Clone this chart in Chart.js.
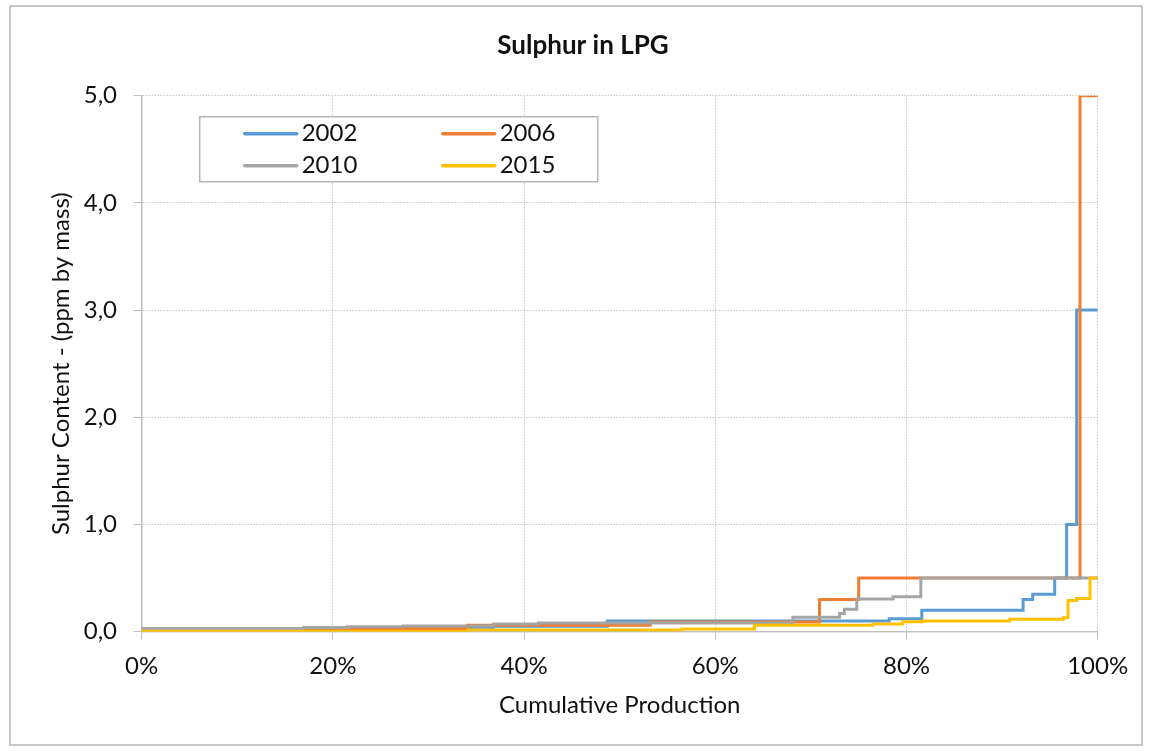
<!DOCTYPE html>
<html>
<head>
<meta charset="utf-8">
<title>Sulphur in LPG</title>
<script src="https://cdn.jsdelivr.net/npm/chart.js@4.4.1/dist/chart.umd.min.js"></script>
<style>
    html, body { margin: 0; padding: 0; background: #fff; }
</style>
</head>
<body>
<canvas id="chart" width="1152" height="751"></canvas>
<script>
// Step curves: cumulative production (%) where each step starts,
// and the sulphur content (ppm by mass) from that point on
const x2002 = [0, 17, 36.8, 48.7, 78.2, 81.6, 92.2, 93.2, 95.5, 96.75, 97.8, 100];
const y2002 = [0.02, 0.03, 0.05, 0.1, 0.12, 0.2, 0.3, 0.35, 0.5, 1.0, 3.0, 3.0];

const x2006 = [0, 34.1, 53.2, 70.9, 75, 98.15, 100];
const y2006 = [0.03, 0.06, 0.09, 0.3, 0.5, 5.0, 5.0];

const x2010 = [0, 17, 21.5, 27.3, 36.8, 41.5, 68.1, 73, 73.5, 74.8, 78.6, 81.5, 100];
const y2010 = [0.03, 0.04, 0.047, 0.053, 0.072, 0.08, 0.134, 0.17, 0.21, 0.305, 0.327, 0.5, 0.5];

const x2015 = [0, 34.1, 56.5, 64.1, 76.5, 79.6, 81.7, 90.8, 96.4, 96.9, 97.8, 99.2, 100];
const y2015 = [0.005, 0.015, 0.025, 0.06, 0.072, 0.093, 0.1, 0.115, 0.13, 0.29, 0.31, 0.5, 0.5];

const seriesLabels = ['2002', '2006', '2010', '2015'];
const seriesColors = ['#5B9BD5', '#ED7D31', '#A5A5A5', '#FFC000'];

const xTicks = [0, 20, 40, 60, 80, 100];
const yTicks = [0, 1, 2, 3, 4, 5];

const FONT = 'Lato, "Open Sans", sans-serif';
const TEXT = '#111';

function toPoints(xs, ys) {
    return xs.map((x, i) => ({ x: x, y: ys[i] }));
}

// Outer frame of the chart object
const frame = {
    id: 'frame',
    beforeDraw(chart) {
        const ctx = chart.ctx;
        ctx.save();
        ctx.fillStyle = '#fff';
        ctx.fillRect(0, 0, chart.width, chart.height);
        ctx.strokeStyle = '#b4b4b4';
        ctx.lineWidth = 1.5;
        ctx.strokeRect(10, 6, chart.width - 20, chart.height - 12);
        ctx.restore();
    }
};

// Boxed legend sitting inside the plot, two columns
const boxLegend = {
    id: 'boxLegend',
    afterDraw(chart) {
        const ctx = chart.ctx;
        const area = chart.chartArea;
        const left = area.left + 58;
        const top = area.top + 21;
        ctx.save();
        ctx.fillStyle = '#fff';
        ctx.fillRect(left, top, 398, 65);
        ctx.strokeStyle = '#b4b4b4';
        ctx.lineWidth = 1.5;
        ctx.strokeRect(left, top, 398, 65);

        ctx.font = '24px ' + FONT;
        ctx.textBaseline = 'middle';
        ctx.textAlign = 'left';
        chart.data.datasets.forEach((ds, i) => {
            const col = i % 2;
            const row = Math.floor(i / 2);
            const lx = left + 45 + col * 198;
            const ly = top + 17 + row * 32;
            ctx.strokeStyle = ds.borderColor;
            ctx.lineWidth = 3.5;
            ctx.lineCap = 'round';
            ctx.beginPath();
            ctx.moveTo(lx, ly);
            ctx.lineTo(lx + 52, ly);
            ctx.stroke();
            ctx.fillStyle = TEXT;
            ctx.fillText(ds.label, lx + 57, ly);
        });
        ctx.restore();
    }
};

const allX = [x2002, x2006, x2010, x2015];
const allY = [y2002, y2006, y2010, y2015];

const datasets = seriesLabels.map((label, i) => ({
    label: label,
    data: toPoints(allX[i], allY[i]),
    borderColor: seriesColors[i],
    backgroundColor: seriesColors[i],
    borderWidth: 3,
    pointRadius: 0,
    stepped: 'before',
    fill: false,
    order: 4 - i // later years drawn on top
}));

new Chart(document.getElementById('chart'), {
    type: 'line',
    data: { datasets: datasets },
    plugins: [frame, boxLegend],
    options: {
        responsive: false,
        animation: false,
        // right padding pulled in so the title centres where Excel put it
        layout: { padding: { top: 6, left: 10, right: -4, bottom: 10 } },
        plugins: {
            legend: { display: false },
            tooltip: { enabled: false },
            title: {
                display: true,
                text: 'Sulphur in LPG',
                color: TEXT,
                font: { family: FONT, size: 26, weight: 'bold' },
                padding: { top: 24, bottom: 34.5 }
            }
        },
        scales: {
            x: {
                type: 'linear',
                min: 0,
                max: 100,
                afterFit: (scale) => { scale.height = 109.3; scale.paddingRight = 54.3; },
                afterBuildTicks: (scale) => { scale.ticks = xTicks.map(v => ({ value: v })); },
                ticks: {
                    color: TEXT,
                    font: { family: FONT, size: 24 },
                    padding: 12,
                    callback: (v) => v + '%'
                },
                grid: {
                    color: '#c6c6c6',
                    tickColor: '#bfbfbf',
                    tickLength: 8,
                    tickBorderDash: []
                },
                border: { color: '#bfbfbf', width: 1.5, dash: [1.5, 1.5] },
                title: {
                    display: true,
                    text: 'Cumulative Production',
                    color: TEXT,
                    font: { family: FONT, size: 24 },
                    padding: { top: 0, bottom: 21.6 }
                }
            },
            y: {
                min: 0,
                max: 5,
                afterFit: (scale) => { scale.width = 131.7; },
                afterBuildTicks: (scale) => { scale.ticks = yTicks.map(v => ({ value: v })); },
                ticks: {
                    color: TEXT,
                    font: { family: FONT, size: 24 },
                    padding: 16.7,
                    callback: (v) => v.toFixed(1).replace('.', ',')
                },
                grid: {
                    color: '#c6c6c6',
                    tickColor: '#bfbfbf',
                    tickLength: 8,
                    tickBorderDash: []
                },
                border: { color: '#bfbfbf', width: 1.5, dash: [1.5, 1.5] },
                title: {
                    display: true,
                    text: 'Sulphur Content - (ppm by mass)',
                    color: TEXT,
                    font: { family: FONT, size: 24 },
                    padding: { top: 36.6, bottom: 0 }
                }
            }
        }
    }
});
</script>
</body>
</html>
